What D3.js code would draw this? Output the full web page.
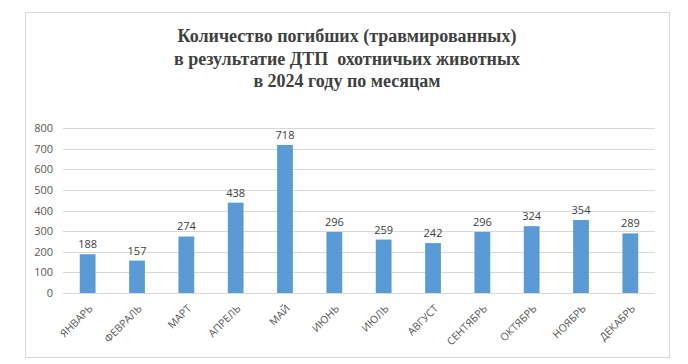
<!DOCTYPE html>
<html>
<head>
<meta charset="utf-8">
<script src="https://cdn.jsdelivr.net/npm/d3@7"></script>
<style>
  body { margin: 0; background: #fff; }
  svg { display: block; }
</style>
</head>
<body>
<script>
var months = ['ЯНВАРЬ', 'ФЕВРАЛЬ', 'МАРТ', 'АПРЕЛЬ', 'МАЙ', 'ИЮНЬ', 'ИЮЛЬ',
              'АВГУСТ', 'СЕНТЯБРЬ', 'ОКТЯБРЬ', 'НОЯБРЬ', 'ДЕКАБРЬ'];
var counts = [188, 157, 274, 438, 718, 296, 259, 242, 296, 324, 354, 289];
var yTicks = [0, 100, 200, 300, 400, 500, 600, 700, 800];
var titleLines = ['Количество погибших (травмированных)',
                  'в результатие ДТП  охотничьих животных',
                  'в 2024 году по месяцам'];

var W = 688, H = 364;
var plot = { left: 63, right: 655, top: 128, bottom: 293 };

var svg = d3.select('body').append('svg')
    .attr('width', W)
    .attr('height', H);

svg.append('rect')
    .attr('x', 0).attr('y', 0).attr('width', W).attr('height', H)
    .attr('fill', '#fff');

// outer chart frame
svg.append('rect')
    .attr('x', 25.5).attr('y', 12.5).attr('width', 644).attr('height', 345)
    .attr('fill', '#fff')
    .attr('stroke', '#d9d9d9')
    .attr('stroke-width', 1);

var title = svg.append('text')
    .attr('text-anchor', 'middle')
    .attr('font-family', '"Liberation Serif", "Times New Roman", serif')
    .attr('font-weight', 'bold')
    .attr('font-size', 18)
    .attr('fill', '#404040');

titleLines.forEach(function (line, i) {
  title.append('tspan')
      .attr('x', 347)
      .attr('y', 42 + i * 22.5)
      .style('white-space', 'pre')
      .text(line);
});

var x = d3.scaleBand()
    .domain(months)
    .range([plot.left, plot.right])
    .paddingInner(0.68)
    .paddingOuter(0.34);

var y = d3.scaleLinear()
    .domain([0, 800])
    .range([plot.bottom, plot.top]);

// gridlines
svg.append('g')
    .selectAll('line')
    .data(yTicks.filter(function (d) { return d > 0; }))
    .join('line')
    .attr('x1', plot.left)
    .attr('x2', plot.right)
    .attr('y1', function (d) { return Math.round(y(d)) + 0.5; })
    .attr('y2', function (d) { return Math.round(y(d)) + 0.5; })
    .attr('stroke', '#d9d9d9')
    .attr('stroke-width', 1);

// y axis labels
var yAxis = svg.append('g')
    .attr('transform', 'translate(' + (plot.left - 10) + ',0)')
    .call(d3.axisLeft(y).tickValues(yTicks).tickSize(0).tickPadding(0));
yAxis.select('.domain').remove();
yAxis.selectAll('text')
    .attr('font-family', '"Open Sans", "Liberation Sans", sans-serif')
    .attr('font-size', 11)
    .attr('fill', '#595959');

// bars
svg.append('g')
    .selectAll('rect')
    .data(counts)
    .join('rect')
    .attr('x', function (d, i) { return x(months[i]); })
    .attr('y', function (d) { return y(d); })
    .attr('width', x.bandwidth())
    .attr('height', function (d) { return y(0) - y(d); })
    .attr('fill', '#5b9bd5');

// value labels
svg.append('g')
    .selectAll('text')
    .data(counts)
    .join('text')
    .attr('x', function (d, i) { return x(months[i]) + x.bandwidth() / 2; })
    .attr('y', function (d) { return y(d) - 6; })
    .attr('text-anchor', 'middle')
    .attr('font-family', '"Open Sans", "Liberation Sans", sans-serif')
    .attr('font-size', 11)
    .attr('fill', '#404040')
    .text(function (d) { return d; });

// x axis
var xAxis = svg.append('g')
    .attr('transform', 'translate(0,' + (plot.bottom + 0.5) + ')')
    .call(d3.axisBottom(x).tickSize(0).tickSizeOuter(0));
xAxis.select('.domain')
    .attr('stroke', '#d9d9d9')
    .attr('d', 'M' + plot.left + ',0H' + plot.right);
xAxis.selectAll('text')
    .attr('font-family', '"Open Sans", "Liberation Sans", sans-serif')
    .attr('font-size', 10.5)
    .attr('fill', '#595959')
    .attr('text-anchor', 'end')
    .attr('dy', '0.35em')
    .attr('transform', 'translate(1,11) rotate(-45)');
</script>
</body>
</html>
